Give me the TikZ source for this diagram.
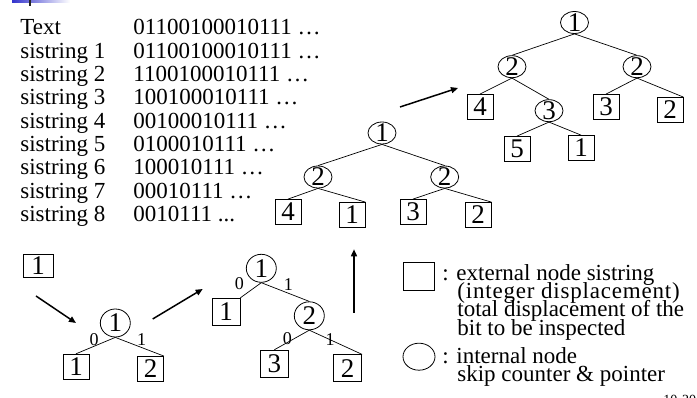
\documentclass[tikz,border=0pt]{standalone}
\usepackage{fontspec}
\setmainfont{Liberation Serif}
\usetikzlibrary{shapes.geometric,arrows.meta}
\definecolor{barblue}{RGB}{51,51,204}
\begin{document}
\begin{tikzpicture}[x=1pt,y=-1pt,line width=0.8pt,
 ext/.style={draw, minimum width=26pt, minimum height=25pt, inner sep=0pt, font=\fontsize{27}{27}\selectfont},
 int/.style={draw, ellipse, minimum width=28pt, minimum height=22pt, inner xsep=0pt, inner ysep=-2.5pt, font=\fontsize{27}{27}\selectfont},
 intb/.style={int, minimum width=30pt, minimum height=28pt},
 lbl/.style={font=\fontsize{18}{18}\selectfont, inner sep=0pt},
 txt/.style={anchor=base west, inner sep=0pt, font=\fontsize{23}{23}\selectfont},
 leg/.style={anchor=base west, inner sep=0pt, font=\fontsize{23}{23}\selectfont},
 bigarrow/.style={line width=1.5pt, -{Triangle[length=7pt,width=6pt]}},
 tedge/.style={line width=0.7pt}]
\path[use as bounding box, clip] (0,0) rectangle (697,398);
% header remnant
\shade[left color=barblue, right color=white] (12,0) rectangle (70,3);
\fill[black!85] (28.5,0) rectangle (30.5,6);
% text listing
\node[txt] (l0) at (20,35) {Text};
\node[txt] (v0) at (133,35) {01100100010111 …};
\node[txt] (l1) at (20,58.33) {sistring 1};
\node[txt] (v1) at (133,58.33) {01100100010111 …};
\node[txt] (l2) at (20,81.67) {sistring 2};
\node[txt] (v2) at (133,81.67) {1100100010111 …};
\node[txt] (l3) at (20,105) {sistring 3};
\node[txt] (v3) at (133,105) {100100010111 …};
\node[txt] (l4) at (20,128.33) {sistring 4};
\node[txt] (v4) at (133,128.33) {00100010111 …};
\node[txt] (l5) at (20,151.67) {sistring 5};
\node[txt] (v5) at (133,151.67) {0100010111 …};
\node[txt] (l6) at (20,175) {sistring 6};
\node[txt] (v6) at (133,175) {100010111 …};
\node[txt] (l7) at (20,198.33) {sistring 7};
\node[txt] (v7) at (133,198.33) {00010111 …};
\node[txt] (l8) at (20,221.67) {sistring 8};
\node[txt] (v8) at (133,221.67) {0010111 ...};
% top tree
\node[int] (t1) at (574.5,22.5) {1};
\node[int] (t2a) at (512,66.7) {2};
\node[int] (t2b) at (637,66.7) {2};
\node[ext] (t4) at (480,107) {4};
\node[int] (t3) at (549,110.7) {3};
\node[ext] (tb3) at (606,107) {3};
\node[ext] (tb2) at (670,110) {2};
\node[ext] (t5) at (517,149) {5};
\node[ext] (tb1) at (581,148) {1};
\draw[tedge] (t1.south) -- (t2a.north);
\draw[tedge] (t1.south) -- (t2b.north);
\draw[tedge] (t2a.south) -- (t4.north);
\draw[tedge] (t2a.south) -- (t3.north);
\draw[tedge] (t2b.south) -- (tb3.north);
\draw[tedge] (t2b.south) -- (tb2.north east);
\draw[tedge] (t3.south) -- (t5.north);
\draw[tedge] (t3.south) -- (tb1.north);
% middle tree
\node[int] (m1) at (382,133) {1};
\node[int] (m2a) at (318,177) {2};
\node[int] (m2b) at (444.7,177) {2};
\node[ext] (m4) at (288,212) {4};
\node[ext] (mb1) at (352,215) {1};
\node[ext] (mb3) at (413,212) {3};
\node[ext] (mb2) at (478,215) {2};
\draw[tedge] (m1.south) -- (m2a.north);
\draw[tedge] (m1.south) -- (m2b.north);
\draw[tedge] (m2a.south) -- (m4.north);
\draw[tedge] (m2a.south) -- (mb1.north east);
\draw[tedge] (m2b.south) -- (mb3.north);
\draw[tedge] (m2b.south) -- (mb2.north east);
% arrow middle -> top
\coordinate (a1s) at (400,107);
\coordinate (a1e) at (458,88);
\draw[bigarrow] (a1s) -- (a1e);
% bottom left
\node[ext, minimum width=30pt, minimum height=23pt] (b0) at (38,266) {1};
\coordinate (a2s) at (36,296);
\coordinate (a2e) at (76,323);
\draw[bigarrow] (a2s) -- (a2e);
\node[intb] (c1) at (115.3,323) {1};
\node[ext] (cl) at (76,366.7) {1};
\node[ext] (cr) at (150.5,369) {2};
\draw[tedge] (c1.south) -- (cl.north);
\draw[tedge] (c1.south) -- (cr.north east);
\node[lbl] (c0lab) at (94,340) {0};
\node[lbl] (c1lab) at (141.7,340) {1};
\coordinate (a3s) at (152.7,319);
\coordinate (a3e) at (202.7,289);
\draw[bigarrow] (a3s) -- (a3e);
% bottom middle
\node[intb] (d1) at (261.3,268.3) {1};
\node[ext, minimum width=28pt, minimum height=27pt] (dl) at (226,311.7) {1};
\node[intb] (d2) at (309.3,315.8) {2};
\node[ext, minimum width=28pt, minimum height=27pt] (d3) at (274.3,363.7) {3};
\node[ext, minimum width=28pt, minimum height=27pt] (d4) at (347.7,368.3) {2};
\draw[tedge] (d1.south) -- (dl.north east);
\draw[tedge] (d1.south) -- (d2.north);
\draw[tedge] (d2.south) -- (d3.north);
\draw[tedge] (d2.south) -- (d4.north east);
\node[lbl] (d0lab) at (239.3,283.3) {0};
\node[lbl] (d1lab) at (288.3,285) {1};
\node[lbl] (d2lab) at (287.3,338.3) {0};
\node[lbl] (d3lab) at (330,339.3) {1};
\coordinate (a4s) at (354,312.7);
\coordinate (a4e) at (354,249.3);
\draw[bigarrow] (a4s) -- (a4e);
% legend
\node[draw, minimum width=31pt, minimum height=28pt, inner sep=0pt] (legsq) at (419,276) {};
\node[draw, ellipse, minimum width=32pt, minimum height=27pt, inner sep=0pt] (legci) at (419,356.7) {};
\node[leg] (g1) at (442,280.5) {: external node sistring};
\node[leg, font=\fontsize{23}{23}\selectfont\addfontfeature{LetterSpace=3.5}] (g2) at (457,298.8) {(integer displacement)};
\node[leg] (g3) at (457,317) {total displacement of the};
\node[leg] (g4) at (457,335.3) {bit to be inspected};
\node[leg] (g5) at (442,363.5) {: internal node};
\node[leg] (g6) at (457,382) {skip counter \& pointer};
\node[anchor=base west, inner sep=0pt, font=\fontsize{14}{14}\selectfont] (pg) at (663,405) {10-20};
\end{tikzpicture}
\end{document}
